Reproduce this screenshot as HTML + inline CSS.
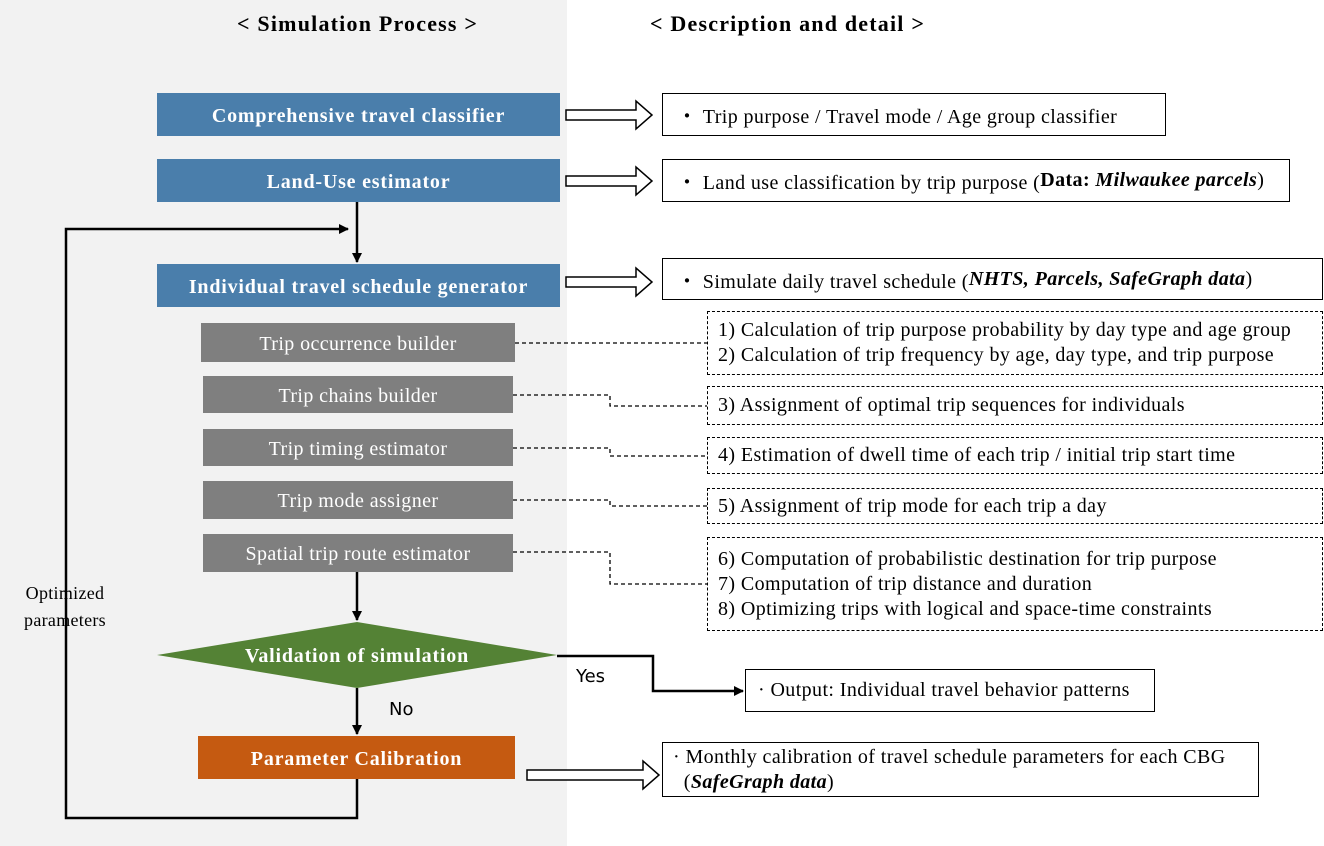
<!DOCTYPE html>
<html><head><style>
body{margin:0;width:1324px;height:846px;position:relative;background:#fff;font-family:"Liberation Serif",serif;overflow:hidden}
.a{position:absolute;box-sizing:border-box;display:flex;align-items:center;font-size:20px;letter-spacing:0.4px;white-space:nowrap}
.b{background:#4a7eab;color:#fff;font-weight:bold;justify-content:center;letter-spacing:0.8px;padding-top:4px}
.g{background:#7f7f7f;color:#fff;justify-content:center;padding-top:3px}
.r{border:1.5px solid #000;padding-left:14px}
.d{border:1px dashed #000;padding-left:10px;flex-direction:column;align-items:flex-start;justify-content:center;line-height:25px}
</style></head><body>
<div style="position:absolute;left:0;top:0;width:567px;height:846px;background:#f2f2f2"></div>
<div class="a" style="left:237px;top:11px;font-size:22px;font-weight:bold;letter-spacing:1.2px">&lt; Simulation Process &gt;</div>
<div class="a" style="left:650px;top:11px;font-size:22px;font-weight:bold;letter-spacing:1.2px">&lt; Description and detail &gt;</div>

<div class="a b" style="left:157px;top:93px;width:403px;height:43px">Comprehensive travel classifier</div>
<div class="a b" style="left:157px;top:159px;width:403px;height:43px">Land-Use estimator</div>
<div class="a b" style="left:157px;top:264px;width:403px;height:43px">Individual travel schedule generator</div>
<div class="a g" style="left:201px;top:323px;width:314px;height:39px">Trip occurrence builder</div>
<div class="a g" style="left:203px;top:376px;width:310px;height:37px">Trip chains builder</div>
<div class="a g" style="left:203px;top:429px;width:310px;height:37px">Trip timing estimator</div>
<div class="a g" style="left:203px;top:481px;width:310px;height:38px">Trip mode assigner</div>
<div class="a g" style="left:203px;top:534px;width:310px;height:38px">Spatial trip route estimator</div>
<div class="a" style="left:198px;top:736px;width:317px;height:43px;background:#c55a11;color:#fff;font-weight:bold;justify-content:center;letter-spacing:0.8px;padding-top:4px">Parameter Calibration</div>

<svg style="position:absolute;left:0;top:0" width="1324" height="846">
<defs><marker id="m" markerWidth="10" markerHeight="10" refX="9" refY="5" orient="auto" markerUnits="userSpaceOnUse"><path d="M0,0 L10,5 L0,10z" fill="#000"/></marker></defs>
<polygon points="157,655 357,622 557,655 357,688" fill="#548235"/>
<g fill="#fff" stroke="#000" stroke-width="1.5">
<path d="M566,110 H636 V101 L652,115 L636,129 V120 H566z"/>
<path d="M566,176 H636 V167 L652,181 L636,195 V186 H566z"/>
<path d="M566,277 H636 V268 L652,282 L636,296 V287 H566z"/>
<path d="M527,770 H643 V761 L659,775 L643,789 V780 H527z"/>
</g>
<g stroke="#000" stroke-width="2.5" fill="none">
<line x1="357" y1="202" x2="357" y2="262" marker-end="url(#m)"/>
<line x1="357" y1="572" x2="357" y2="620" marker-end="url(#m)"/>
<line x1="357" y1="688" x2="357" y2="734" marker-end="url(#m)"/>
<path d="M357,779 V818 H66 V229 H348" marker-end="url(#m)"/>
<path d="M557,656 H653 V691 H743" marker-end="url(#m)"/>
</g>
<g stroke="#000" stroke-width="1.3" fill="none" stroke-dasharray="4,3">
<path d="M515,343 H707"/>
<path d="M513,395 H610 V406 H707"/>
<path d="M513,448 H610 V456 H707"/>
<path d="M513,500 H610 V506 H707"/>
<path d="M513,552 H610 V584 H707"/>
</g>
</svg>
<div class="a" style="left:157px;top:645px;width:400px;justify-content:center;color:#fff;font-weight:bold;letter-spacing:0.8px">Validation of simulation</div>
<div class="a" style="left:576px;top:666px;font-family:'DejaVu Sans',sans-serif;font-size:18px;letter-spacing:0">Yes</div>
<div class="a" style="left:389px;top:699px;font-family:'DejaVu Sans',sans-serif;font-size:18px;letter-spacing:0">No</div>
<div class="a" style="left:15px;top:580px;font-size:18px;line-height:27px;white-space:normal;width:100px;text-align:center;letter-spacing:0.3px">Optimized parameters</div>

<div class="a r" style="left:662px;top:93px;width:504px;height:43px">・ Trip purpose / Travel mode / Age group classifier</div>
<div class="a r" style="left:662px;top:159px;width:628px;height:43px">・ Land use classification by trip purpose (<b>Data: <i>Milwaukee parcels</i></b>)</div>
<div class="a r" style="left:662px;top:258px;width:661px;height:42px">・ Simulate daily travel schedule (<b><i>NHTS, Parcels, SafeGraph data</i></b>)</div>
<div class="a d" style="left:707px;top:311px;width:616px;height:64px"><div>1) Calculation of trip purpose probability by day type and age group</div><div>2) Calculation of trip frequency by age, day type, and trip purpose</div></div>
<div class="a d" style="left:707px;top:386px;width:616px;height:39px"><div>3) Assignment of optimal trip sequences for individuals</div></div>
<div class="a d" style="left:707px;top:437px;width:616px;height:37px"><div>4) Estimation of dwell time of each trip / initial trip start time</div></div>
<div class="a d" style="left:707px;top:488px;width:616px;height:36px"><div>5) Assignment of trip mode for each trip a day</div></div>
<div class="a d" style="left:707px;top:537px;width:616px;height:94px"><div>6) Computation of probabilistic destination for trip purpose</div><div>7) Computation of trip distance and duration</div><div>8) Optimizing trips with logical and space-time constraints</div></div>
<div class="a r" style="left:745px;top:669px;width:410px;height:43px;padding-left:12px">· Output: Individual travel behavior patterns</div>
<div class="a r" style="left:662px;top:742px;width:597px;height:55px;flex-direction:column;align-items:flex-start;justify-content:center;line-height:25px;padding-left:10px"><div>· Monthly calibration of travel schedule parameters for each CBG</div><div>&nbsp;&nbsp;(<b><i>SafeGraph data</i></b>)</div></div>
</body></html>
